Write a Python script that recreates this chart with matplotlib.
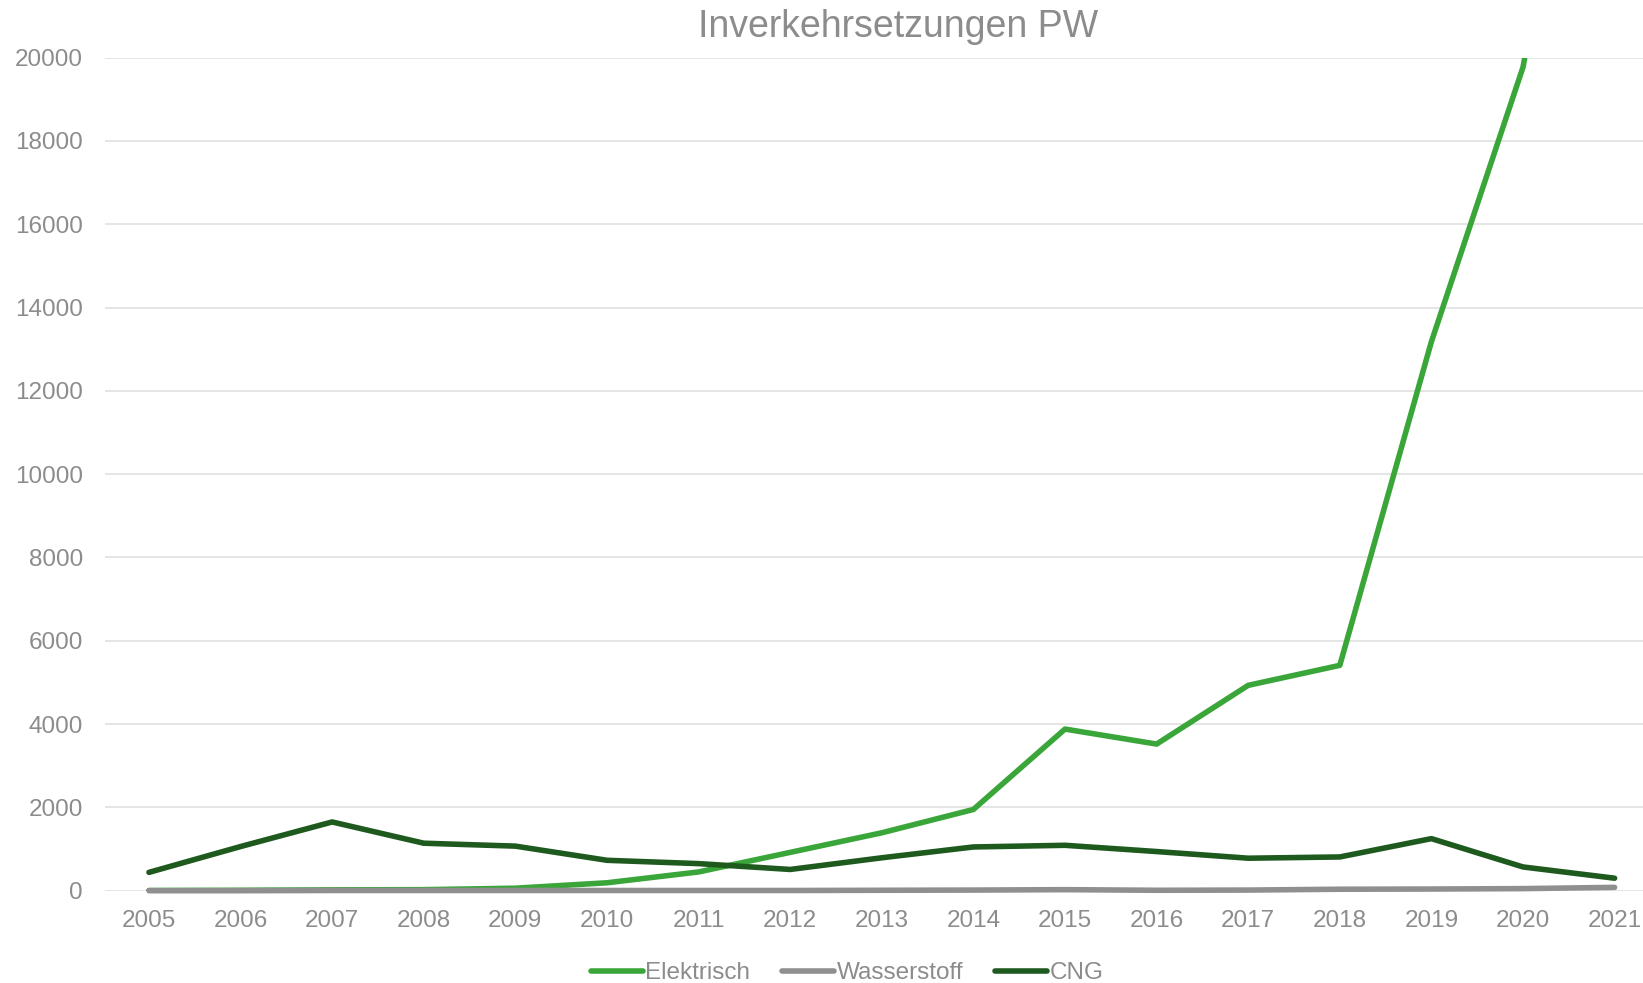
import matplotlib.pyplot as plt

plt.rcParams['font.family'] = ['Liberation Sans', 'DejaVu Sans']

years = list(range(2005, 2022))
elektrisch = [5, 10, 20, 25, 60, 190, 450, 920, 1390, 1950, 3880, 3520, 4930, 5410, 13180, 19770, 31820]
wasserstoff = [0, 0, 5, 5, 5, 5, 5, 5, 10, 15, 25, 10, 15, 35, 40, 50, 80]
cng = [440, 1060, 1650, 1140, 1070, 730, 650, 510, 790, 1050, 1090, 940, 780, 810, 1250, 570, 300]

grey = '#8c8c8c'
fig = plt.figure(figsize=(16.43, 9.83), dpi=100)
ax = fig.add_axes([0.0639, 0.0939, 0.9361, 0.8475])

# same drawing order as the original: later series on top
ax.plot(years, elektrisch, color='#3aa63a', lw=4, label='Elektrisch', solid_capstyle='round', zorder=3)
ax.plot(years, wasserstoff, color='#8f8f8f', lw=4, label='Wasserstoff', solid_capstyle='round', zorder=4, clip_on=False)
ax.plot(years, cng, color='#1e5a1e', lw=4, label='CNG', solid_capstyle='round', zorder=5, clip_on=False)

ax.set_ylim(0, 20000)
ax.set_xlim(2004.52, 2021.31)
ax.set_yticks(range(0, 20001, 2000))
ax.set_xticks(years)
ax.grid(axis='y', color='#e3e3e3', lw=1.3)
ax.set_axisbelow(True)
for s in ax.spines.values():
    s.set_visible(False)
ax.tick_params(length=0, labelsize=17.5, labelcolor=grey)
ax.tick_params(axis='y', pad=16)
ax.tick_params(axis='x', pad=14)

fig.text(0.5466, 0.973, 'Inverkehrsetzungen PW', ha='center', va='center', fontsize=27, color=grey)

leg = fig.legend(loc='center', bbox_to_anchor=(0.5155, 0.01),
                 ncol=3, frameon=False, fontsize=17.5, handlelength=2.15, handletextpad=0.1, columnspacing=1.3)
for t in leg.get_texts():
    t.set_color(grey)

fig.savefig('out.png', dpi=100)
